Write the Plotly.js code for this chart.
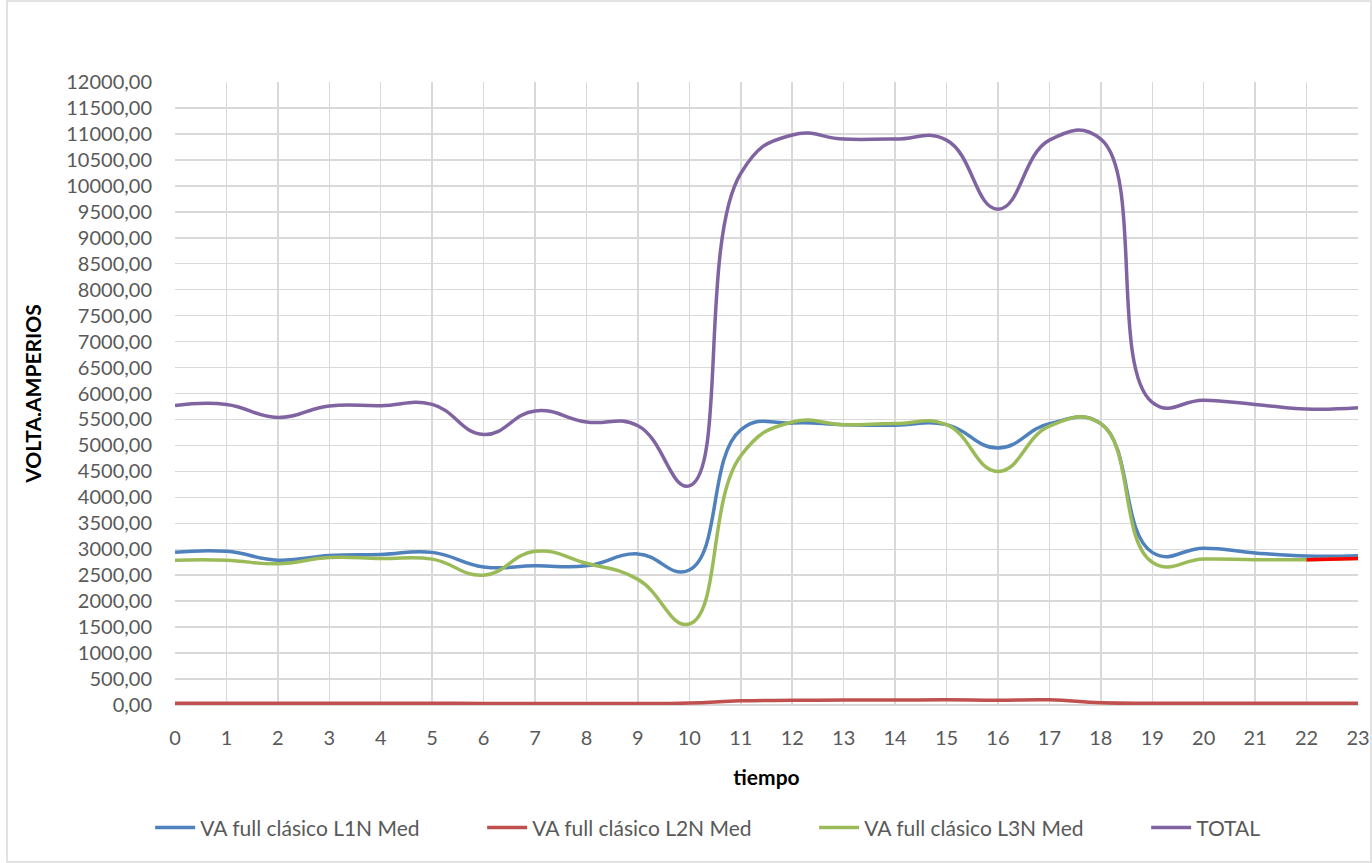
<!DOCTYPE html>
<html>
<head>
<meta charset="utf-8">
<script src="https://cdn.plot.ly/plotly-3.0.1.min.js"></script>
<style>
html,body{margin:0;padding:0;background:#fff;}
#chart{width:1372px;height:863px;}
</style>
</head>
<body>
<div id="chart"></div>
<script>
// Categories (hours) and series values
const hours = [0,1,2,3,4,5,6,7,8,9,10,11,12,13,14,15,16,17,18,19,20,21,22,23];
const tickLabels = hours.map(String);
const L1N = [2940, 2960, 2790, 2880, 2900, 2940, 2660, 2680, 2680, 2910, 2600, 5300, 5430, 5400, 5390, 5400, 4950, 5420, 5420, 2940, 3020, 2930, 2870, 2875];
const L2N = [35, 35, 33, 35, 35, 35, 30, 30, 30, 28, 40, 80, 90, 95, 95, 100, 90, 100, 45, 35, 35, 35, 35, 35];
const L3N = [2790, 2790, 2720, 2840, 2820, 2810, 2500, 2960, 2730, 2420, 1560, 4800, 5450, 5400, 5420, 5400, 4500, 5370, 5420, 2750, 2810, 2800, 2800, 2820];
const TOTAL = [5770, 5790, 5540, 5760, 5765, 5790, 5210, 5665, 5450, 5380, 4220, 10240, 10980, 10900, 10900, 10880, 9550, 10880, 10900, 5830, 5870, 5790, 5700, 5725];
const seriesNames = ["VA full clásico L1N Med", "VA full clásico L2N Med", "VA full clásico L3N Med", "TOTAL"];
const yTicks = [0,500,1000,1500,2000,2500,3000,3500,4000,4500,5000,5500,6000,6500,7000,7500,8000,8500,9000,9500,10000,10500,11000,11500,12000];

const colors = ["#4F81BD", "#C0504D", "#9BBB59", "#8064A2"];
const legendWidths = [277, 277, 277, 70];
const lw = 3.5;
function tr(y, i) {
  return {x: hours, y: y, name: seriesNames[i], type: "scatter", mode: "lines",
    legendwidth: legendWidths[i],
    line: {color: colors[i], width: lw, shape: "spline", smoothing: 1.3}, hoverinfo: "x+y+name"};
}
const traces = [
  tr(L1N, 0),
  tr(L2N, 1),
  tr(L3N, 2),
  tr(TOTAL, 3),
  {x: hours.slice(22), y: L3N.slice(22), type: "scatter", mode: "lines", showlegend: false,
   line: {color: "#FF0000", width: lw}, hoverinfo: "skip"}
];

const tickFont = {family: "Lato, 'Open Sans', sans-serif", size: 20, color: "#595959"};
const layout = {
  width: 1372, height: 863,
  margin: {l: 175, r: 14, t: 82, b: 158},
  paper_bgcolor: "#fff", plot_bgcolor: "#fff",
  separators: ",.",
  showlegend: true,
  xaxis: {
    range: [0, 23], tickvals: hours, ticktext: tickLabels,
    showgrid: true, gridcolor: "#D9D9D9", gridwidth: 1.5,
    zeroline: false, showline: false, ticks: "",
    tickfont: tickFont, ticklabelstandoff: 19, fixedrange: true,
    automargin: false,
    title: {text: "<b>tiempo</b>", font: {family: "Lato, sans-serif", size: 21, color: "#000"}, standoff: 22}
  },
  yaxis: {
    range: [0, 12000], tickvals: yTicks, tickformat: ".2f",
    showgrid: true, gridcolor: "#D9D9D9", gridwidth: 1.5,
    zeroline: true, zerolinecolor: "#D9D9D9", zerolinewidth: 1.5,
    showline: false, ticks: "",
    tickfont: tickFont, ticklabelstandoff: 22, fixedrange: true,
    automargin: false,
    title: {text: "<b>VOLTA.AMPERIOS</b>", font: {family: "Lato, sans-serif", size: 21, color: "#000"}, standoff: 18}
  },
  legend: {
    orientation: "h", x: -0.021, xanchor: "left", y: -0.197, yanchor: "middle",
    font: {family: "Lato, sans-serif", size: 21, color: "#595959"},
    itemwidth: 40, bgcolor: "rgba(0,0,0,0)"
  },
  shapes: [{
    type: "rect", xref: "paper", yref: "paper",
    x0: -0.142, x1: 1.011, y0: -0.252, y1: 1.13,
    line: {color: "#D9D9D9", width: 1.5}, fillcolor: "rgba(0,0,0,0)", layer: "below"
  }]
};
Plotly.newPlot("chart", traces, layout, {displayModeBar: false, staticPlot: true});
</script>
</body>
</html>
